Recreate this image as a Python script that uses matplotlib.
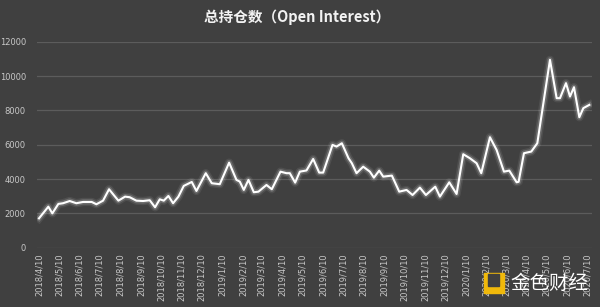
import matplotlib
matplotlib.use("Agg")
import matplotlib.pyplot as plt
import matplotlib.patheffects as pe
from matplotlib.patches import Rectangle
import pandas as pd

# open interest readings
dates = [
    "2018-04-10", "2018-04-24", "2018-04-30", "2018-05-09", "2018-05-16", "2018-05-26",
    "2018-06-05", "2018-06-15", "2018-06-28", "2018-07-05", "2018-07-15", "2018-07-24",
    "2018-08-02", "2018-08-07", "2018-08-17", "2018-08-24", "2018-09-03", "2018-09-13",
    "2018-09-23", "2018-10-01", "2018-10-08", "2018-10-14", "2018-10-21", "2018-10-28",
    "2018-11-05", "2018-11-13", "2018-11-25", "2018-12-02", "2018-12-16", "2018-12-25",
    "2019-01-06", "2019-01-20", "2019-01-31", "2019-02-05", "2019-02-11", "2019-02-18",
    "2019-02-26", "2019-03-05", "2019-03-17", "2019-03-25", "2019-04-07", "2019-04-16",
    "2019-04-21", "2019-04-29", "2019-05-06", "2019-05-16", "2019-05-26", "2019-06-04",
    "2019-06-10", "2019-06-24", "2019-06-30", "2019-07-08", "2019-07-18", "2019-07-23",
    "2019-07-30", "2019-08-09", "2019-08-19", "2019-08-25", "2019-09-02", "2019-09-08",
    "2019-09-21", "2019-10-02", "2019-10-13", "2019-10-22", "2019-11-02", "2019-11-11",
    "2019-11-25", "2019-12-02", "2019-12-16", "2019-12-27", "2020-01-06", "2020-01-16",
    "2020-01-26", "2020-02-02", "2020-02-15", "2020-02-25", "2020-03-07", "2020-03-15",
    "2020-03-26", "2020-03-29", "2020-04-06", "2020-04-17", "2020-04-26", "2020-05-15",
    "2020-05-25", "2020-05-30", "2020-06-08", "2020-06-14", "2020-06-20", "2020-06-28",
    "2020-07-04", "2020-07-13",
]
open_interest = [
    1710, 2390, 2000, 2550, 2590, 2720,
    2590, 2665, 2665, 2530, 2740, 3405,
    2975, 2740, 2975, 2940, 2740, 2720,
    2765, 2355, 2820, 2740, 3015, 2590,
    2975, 3600, 3830, 3305, 4340, 3755,
    3700, 4955, 3950, 3850, 3365, 3950,
    3230, 3265, 3655, 3405, 4430, 4340,
    4340, 3790, 4430, 4500, 5170, 4375,
    4375, 5990, 5890, 6085, 5210, 4920,
    4340, 4720, 4430, 4080, 4490, 4140,
    4200, 3265, 3365, 3070, 3500, 3070,
    3555, 2975, 3810, 3130, 5445, 5210,
    4920, 4340, 6435, 5695, 4430, 4490,
    3810, 3840, 5505, 5600, 6085, 10945,
    8710, 8710, 9585, 8805, 9350, 7600,
    8130, 8320,
]
tick_dates = pd.date_range("2018-04-01", "2020-07-01", freq="MS") + pd.Timedelta(days=9)
y_ticks = [0, 2000, 4000, 6000, 8000, 10000, 12000]

bg = "#404040"
x = pd.to_datetime(dates)

fig = plt.figure(figsize=(6, 3.07), dpi=100, facecolor=bg)
ax = fig.add_axes([37 / 600, 1 - 247.7 / 307, (592 - 37) / 600, (247.7 - 41.7) / 307])
ax.set_facecolor(bg)

line, = ax.plot(x, open_interest, color="white", lw=1.5, solid_joinstyle="round", zorder=3)
line.set_path_effects([
    pe.Stroke(linewidth=6, foreground="white", alpha=0.08),
    pe.Stroke(linewidth=3.8, foreground="white", alpha=0.18),
    pe.Normal(),
])

ax.set_ylim(0, 12000)
ax.set_yticks(y_ticks)
ax.set_xlim(pd.Timestamp("2018-04-07"), pd.Timestamp("2020-07-17"))
ax.set_xticks(tick_dates)
ax.set_xticklabels([f"{d.year}/{d.month}/{d.day}" for d in tick_dates], rotation=90)
ax.grid(axis="y", color="#5c5c5c", lw=0.9)
ax.set_axisbelow(True)
for s in ax.spines.values():
    s.set_visible(False)
ax.tick_params(length=0, colors="#c8c8c8", labelsize=6)
ax.tick_params(axis="y", pad=8)
ax.tick_params(axis="x", pad=4)

fig.text(0.495, 0.945, "总持仓数（Open Interest）", ha="center", va="center",
         color="#f2f2f2", fontsize=10.5, fontweight="bold",
         family=["Noto Sans CJK SC", "DejaVu Sans"])

# watermark
fig.patches.append(Rectangle((484 / 600, 1 - 293 / 307), 20 / 600, 20 / 307,
                             transform=fig.transFigure, color="#f0b90b", zorder=5))
fig.patches.append(Rectangle((488 / 600, 1 - 286 / 307), 11 / 600, 12 / 307,
                             transform=fig.transFigure, color=bg, zorder=6))
fig.text(549 / 600, 1 - 283 / 307, "金色财经", ha="center", va="center", color="white",
         fontsize=14, family=["Noto Sans CJK SC", "DejaVu Sans"], zorder=7)

fig.savefig("out.png", dpi=100, facecolor=bg)
